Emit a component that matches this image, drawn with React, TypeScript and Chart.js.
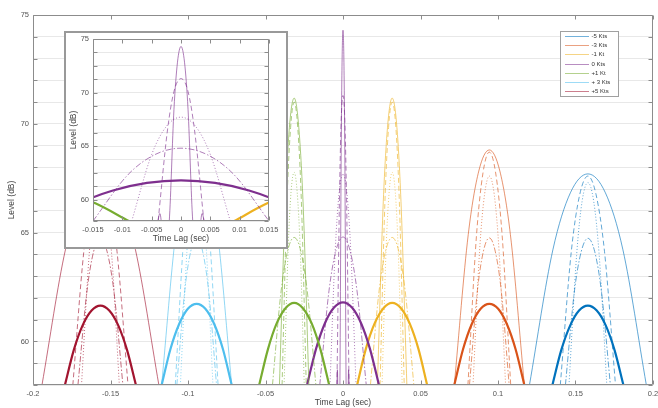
import React, { useEffect, useRef } from 'react';
import { Chart, registerables } from 'chart.js';

Chart.register(...registerables);

type Pt = [number, number];

// ---------- labels ----------
const speedLabels = ['-5 Kts', '-3 Kts', '-1 Kt', '0 Kts', '+1 Kt', '+ 3 Kts', '+5 Kts'];
const xTitle = 'Time Lag (sec)';
const yTitle = 'Level (dB)';

// ---------- data (time lag s, level dB) ----------
// -5 Kts
const m5Solid: Pt[] = [[0.1203, 58], [0.1354, 64.21], [0.1467, 66.83], [0.158, 67.7], [0.1693, 66.83], [0.1806, 64.21], [0.1957, 58]];
const m5Dashed: Pt[] = [[0.1402, 58], [0.1473, 64.14], [0.1527, 66.74], [0.158, 67.6], [0.1633, 66.74], [0.1687, 64.14], [0.1758, 58]];
const m5Dotted: Pt[] = [[0.1458, 58], [0.1507, 63.95], [0.1543, 66.46], [0.158, 67.3], [0.1617, 66.46], [0.1653, 63.95], [0.1702, 58]];
const m5DashDot: Pt[] = [[0.1435, 58], [0.1493, 62.31], [0.1537, 64.13], [0.158, 64.74], [0.1624, 64.13], [0.1667, 62.31], [0.1725, 58]];
const m5Thick: Pt[] = [[0.1351, 58], [0.1408, 59.6], [0.1466, 60.74], [0.1523, 61.42], [0.158, 61.65], [0.1637, 61.42], [0.1695, 60.74], [0.1752, 59.6], [0.1809, 58]];
// -3 Kts
const m3Solid: Pt[] = [[0.0718, 58], [0.0808, 64.91], [0.0876, 67.83], [0.0944, 68.8], [0.1012, 67.83], [0.108, 64.91], [0.117, 58]];
const m3Dashed: Pt[] = [[0.0806, 58], [0.0861, 64.85], [0.0903, 67.74], [0.0944, 68.7], [0.0985, 67.74], [0.1027, 64.85], [0.1082, 58]];
const m3Dotted: Pt[] = [[0.0839, 58], [0.0881, 64.14], [0.0913, 66.74], [0.0944, 67.6], [0.0976, 66.74], [0.1007, 64.14], [0.1049, 58]];
const m3DashDot: Pt[] = [[0.0816, 58], [0.0867, 62.33], [0.0906, 64.15], [0.0944, 64.76], [0.0982, 64.15], [0.1021, 62.33], [0.1072, 58]];
const m3Thick: Pt[] = [[0.0718, 58], [0.0774, 59.63], [0.0831, 60.8], [0.0888, 61.5], [0.0944, 61.73], [0.1001, 61.5], [0.1057, 60.8], [0.1114, 59.63], [0.117, 58]];
// -1 Kt
const m1Solid: Pt[] = [[0.0222, 58], [0.026, 66.44], [0.0289, 69.99], [0.0317, 71.18], [0.0346, 69.99], [0.0374, 66.44], [0.0412, 58]];
const m1Dashed: Pt[] = [[0.0239, 58], [0.027, 66.32], [0.0294, 69.83], [0.0317, 71.0], [0.0341, 69.83], [0.0364, 66.32], [0.0395, 58]];
const m1Dotted: Pt[] = [[0.0252, 58], [0.0278, 64.25], [0.0298, 66.89], [0.0317, 67.77], [0.0337, 66.89], [0.0356, 64.25], [0.0382, 58]];
const m1DashDot: Pt[] = [[0.0177, 58], [0.0233, 62.34], [0.0275, 64.17], [0.0317, 64.78], [0.0359, 64.17], [0.0401, 62.34], [0.0457, 58]];
const m1Thick: Pt[] = [[0.0091, 58], [0.0147, 59.65], [0.0204, 60.83], [0.0261, 61.53], [0.0317, 61.77], [0.0374, 61.53], [0.043, 60.83], [0.0487, 59.65], [0.0543, 58]];
// 0 Kts
const z0Solid: Pt[] = [[-0.0045, 55], [-0.0036, 58.7], [-0.0028, 55], [-0.002, 58], [-0.0012, 68.43], [-0.0006, 72.83], [0, 74.3], [0.0006, 72.83], [0.0012, 68.43], [0.002, 58], [0.0028, 55], [0.0036, 58.7], [0.0045, 55]];
const z0Dashed: Pt[] = [[-0.0039, 58], [-0.0023, 66.51], [-0.0012, 70.1], [0, 71.3], [0.0012, 70.1], [0.0023, 66.51], [0.0039, 58]];
const z0Dotted: Pt[] = [[-0.0084, 58], [-0.005, 64.21], [-0.0025, 66.83], [0, 67.7], [0.0025, 66.83], [0.005, 64.21], [0.0084, 58]];
const z0DashDot: Pt[] = [[-0.015, 58], [-0.009, 62.35], [-0.0045, 64.19], [0, 64.8], [0.0045, 64.19], [0.009, 62.35], [0.015, 58]];
const z0Thick: Pt[] = [[-0.0232, 58], [-0.0174, 59.66], [-0.0116, 60.85], [-0.0058, 61.56], [0, 61.8], [0.0058, 61.56], [0.0116, 60.85], [0.0174, 59.66], [0.0232, 58]];
// +1 Kt
const p1Solid: Pt[] = [[-0.041, 58], [-0.0372, 66.44], [-0.0344, 69.99], [-0.0315, 71.18], [-0.0287, 69.99], [-0.0258, 66.44], [-0.022, 58]];
const p1Dashed: Pt[] = [[-0.0393, 58], [-0.0362, 66.32], [-0.0338, 69.83], [-0.0315, 71.0], [-0.0292, 69.83], [-0.0268, 66.32], [-0.0237, 58]];
const p1Dotted: Pt[] = [[-0.038, 58], [-0.0354, 64.25], [-0.0335, 66.89], [-0.0315, 67.77], [-0.0296, 66.89], [-0.0276, 64.25], [-0.025, 58]];
const p1DashDot: Pt[] = [[-0.0455, 58], [-0.0399, 62.34], [-0.0357, 64.17], [-0.0315, 64.78], [-0.0273, 64.17], [-0.0231, 62.34], [-0.0175, 58]];
const p1Thick: Pt[] = [[-0.0541, 58], [-0.0484, 59.65], [-0.0428, 60.83], [-0.0371, 61.53], [-0.0315, 61.77], [-0.0259, 61.53], [-0.0202, 60.83], [-0.0146, 59.65], [-0.0089, 58]];
// +3 Kts
const p3Solid: Pt[] = [[-0.117, 58], [-0.108, 64.91], [-0.1012, 67.83], [-0.0944, 68.8], [-0.0876, 67.83], [-0.0808, 64.91], [-0.0718, 58]];
const p3Dashed: Pt[] = [[-0.1082, 58], [-0.1027, 64.85], [-0.0985, 67.74], [-0.0944, 68.7], [-0.0903, 67.74], [-0.0861, 64.85], [-0.0806, 58]];
const p3Dotted: Pt[] = [[-0.1049, 58], [-0.1007, 64.14], [-0.0976, 66.74], [-0.0944, 67.6], [-0.0913, 66.74], [-0.0881, 64.14], [-0.0839, 58]];
const p3DashDot: Pt[] = [[-0.1072, 58], [-0.1021, 62.33], [-0.0982, 64.15], [-0.0944, 64.76], [-0.0906, 64.15], [-0.0867, 62.33], [-0.0816, 58]];
const p3Thick: Pt[] = [[-0.117, 58], [-0.1114, 59.63], [-0.1057, 60.8], [-0.1001, 61.5], [-0.0944, 61.73], [-0.0888, 61.5], [-0.0831, 60.8], [-0.0774, 59.63], [-0.0718, 58]];
// +5 Kts
const p5Solid: Pt[] = [[-0.1942, 58], [-0.1791, 64.21], [-0.1678, 66.83], [-0.1565, 67.7], [-0.1452, 66.83], [-0.1339, 64.21], [-0.1188, 58]];
const p5Dashed: Pt[] = [[-0.1743, 58], [-0.1672, 64.14], [-0.1618, 66.74], [-0.1565, 67.6], [-0.1512, 66.74], [-0.1458, 64.14], [-0.1387, 58]];
const p5Dotted: Pt[] = [[-0.1687, 58], [-0.1638, 63.95], [-0.1602, 66.46], [-0.1565, 67.3], [-0.1528, 66.46], [-0.1492, 63.95], [-0.1443, 58]];
const p5DashDot: Pt[] = [[-0.171, 58], [-0.1652, 62.31], [-0.1609, 64.13], [-0.1565, 64.74], [-0.1522, 64.13], [-0.1478, 62.31], [-0.142, 58]];
const p5Thick: Pt[] = [[-0.1794, 58], [-0.1737, 59.6], [-0.168, 60.74], [-0.1622, 61.42], [-0.1565, 61.65], [-0.1508, 61.42], [-0.145, 60.74], [-0.1393, 59.6], [-0.1336, 58]];

// ---------- styles ----------
const speedRgb = ['0,114,189', '217,83,25', '237,177,32', '126,47,142', '119,172,48', '77,190,238', '162,20,47'];
const FONT = '"Liberation Sans", Arial, Helvetica, sans-serif';

const groups = [
  [m5Solid, m5Dashed, m5Dotted, m5DashDot, m5Thick],
  [m3Solid, m3Dashed, m3Dotted, m3DashDot, m3Thick],
  [m1Solid, m1Dashed, m1Dotted, m1DashDot, m1Thick],
  [z0Solid, z0Dashed, z0Dotted, z0DashDot, z0Thick],
  [p1Solid, p1Dashed, p1Dotted, p1DashDot, p1Thick],
  [p3Solid, p3Dashed, p3Dotted, p3DashDot, p3Thick],
  [p5Solid, p5Dashed, p5Dotted, p5DashDot, p5Thick],
];
const dashes = [[], [5, 3], [1, 2], [6, 2, 1.5, 2], []];

function buildDatasets() {
  const list: any[] = [];
  groups.forEach((g, gi) => {
    g.forEach((pts, si) => {
      const thick = si === 4;
      list.push({
        label: speedLabels[gi],
        data: pts.map(([x, y]) => ({ x, y })),
        borderColor: thick ? `rgb(${speedRgb[gi]})` : `rgba(${speedRgb[gi]},0.62)`,
        borderWidth: thick ? 2.2 : 1,
        borderDash: dashes[si],
        pointRadius: 0,
        fill: false,
        cubicInterpolationMode: 'monotone',
        clip: 0,
      });
    });
  });
  return list.reverse();
}

const framePlugin = {
  id: 'frameTicks',
  afterDatasetsDraw(chart: any) {
    const { ctx, chartArea: a, scales } = chart;
    const xs = scales.x;
    const ys = scales.y;
    ctx.save();
    ctx.strokeStyle = '#8c8c8c';
    ctx.lineWidth = 1;
    const L = Math.round(a.left) + 0.5;
    const R = Math.round(a.right) - 0.5;
    const T = Math.round(a.top) + 0.5;
    const B = Math.round(a.bottom) - 0.5;
    const tl = 4;
    ctx.beginPath();
    ctx.rect(L, T, R - L, B - T);
    xs.ticks.forEach((t: any) => {
      const px = Math.round(xs.getPixelForValue(t.value)) + 0.5;
      ctx.moveTo(px, B);
      ctx.lineTo(px, B - tl);
      ctx.moveTo(px, T);
      ctx.lineTo(px, T + tl);
    });
    ys.ticks.forEach((t: any) => {
      const py = Math.round(ys.getPixelForValue(t.value)) + 0.5;
      ctx.moveTo(L, py);
      ctx.lineTo(L + tl, py);
      ctx.moveTo(R, py);
      ctx.lineTo(R - tl, py);
    });
    ctx.stroke();
    ctx.restore();
  },
};

const legendPlugin = {
  id: 'legendBox',
  afterDraw(chart: any) {
    const ctx = chart.ctx;
    ctx.save();
    const x0 = 560;
    const y0 = 31;
    const w = 59;
    const h = 66;
    ctx.fillStyle = '#ffffff';
    ctx.fillRect(x0, y0, w, h);
    ctx.strokeStyle = '#a0a0a0';
    ctx.lineWidth = 1;
    ctx.strokeRect(x0 + 0.5, y0 + 0.5, w - 1, h - 1);
    ctx.font = `6px ${FONT}`;
    ctx.textBaseline = 'middle';
    ctx.textAlign = 'left';
    speedLabels.forEach((lab, i) => {
      const y = Math.round(y0 + 5 + i * 9.2) + 0.5;
      ctx.strokeStyle = `rgba(${speedRgb[i]},0.55)`;
      ctx.beginPath();
      ctx.moveTo(565, y);
      ctx.lineTo(589, y);
      ctx.stroke();
      ctx.fillStyle = '#333';
      ctx.fillText(lab, 591.5, y);
    });
    ctx.restore();
  },
};

function fmt(v: number, d: number) {
  const n = Number(Number(v).toFixed(d));
  return String(n === 0 ? 0 : n);
}

function makeConfig(inset: boolean): any {
  const xMin = inset ? -0.015 : -0.2;
  const xMax = inset ? 0.015 : 0.2;
  const xStep = inset ? 0.005 : 0.05;
  const yStep = inset ? 1.25 : 1;
  return {
    type: 'line',
    data: { datasets: buildDatasets() },
    options: {
      responsive: false,
      maintainAspectRatio: false,
      animation: false,
      events: [],
      layout: {
        padding: inset ? { top: 6, right: 17, left: 0, bottom: 0 } : { top: 15, right: 5, left: 0, bottom: 0 },
      },
      plugins: { legend: { display: false }, tooltip: { enabled: false } },
      scales: {
        x: {
          type: 'linear',
          min: xMin,
          max: xMax,
          border: { display: false },
          grid: { drawOnChartArea: false, drawTicks: false },
          ticks: {
            stepSize: xStep,
            autoSkip: false,
            maxRotation: 0,
            padding: 4,
            color: '#555',
            font: { family: FONT, size: 7.5 },
            callback: (v: any) => fmt(v, 4),
          },
          title: {
            display: true,
            text: xTitle,
            color: '#444',
            font: { family: FONT, size: 8.5 },
            padding: { top: 0, bottom: inset ? 3 : 0 },
          },
          afterFit: (s: any) => {
            s.height = inset ? 26 : 23;
            s.paddingLeft = 0;
            s.paddingRight = 0;
          },
        },
        y: {
          type: 'linear',
          min: 58,
          max: 75,
          border: { display: false },
          grid: { color: '#e8e8e8', drawTicks: false },
          ticks: {
            stepSize: yStep,
            autoSkip: false,
            padding: 4,
            color: '#555',
            font: { family: FONT, size: 7.5 },
            callback: (v: any) => {
              const n = Math.round(Number(v) * 1000) / 1000;
              return Math.abs(n % 5) < 1e-6 ? String(n) : '';
            },
          },
          title: {
            display: true,
            text: yTitle,
            color: '#444',
            font: { family: FONT, size: 8.5 },
            padding: { top: inset ? 3 : 7, bottom: 0 },
          },
          afterFit: (s: any) => {
            s.width = inset ? 27 : 33;
            s.paddingTop = 0;
            s.paddingBottom = 0;
          },
        },
      },
    },
    plugins: inset ? [framePlugin] : [framePlugin, legendPlugin],
  };
}

export default function App() {
  const mainRef = useRef<HTMLCanvasElement>(null);
  const insetRef = useRef<HTMLCanvasElement>(null);

  useEffect(() => {
    const main = new Chart(mainRef.current as HTMLCanvasElement, makeConfig(false));
    const inset = new Chart(insetRef.current as HTMLCanvasElement, makeConfig(true));
    return () => {
      main.destroy();
      inset.destroy();
    };
  }, []);

  return (
    <div style={{ position: 'absolute', left: 0, top: 0, width: 658, height: 408, background: '#fff' }}>
      <canvas ref={mainRef} width={658} height={408} style={{ position: 'absolute', left: 0, top: 0 }} />
      <div
        style={{
          position: 'absolute',
          left: 64,
          top: 31,
          width: 224,
          height: 218,
          border: '2px solid #999',
          boxSizing: 'border-box',
          background: '#fff',
        }}
      >
        <canvas ref={insetRef} width={220} height={214} style={{ display: 'block' }} />
      </div>
    </div>
  );
}
